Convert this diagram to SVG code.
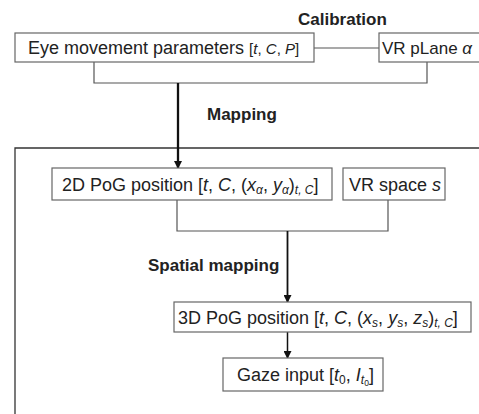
<svg xmlns="http://www.w3.org/2000/svg" width="479" height="414" viewBox="0 0 479 414">
<style>
.box{fill:#fff;stroke:#666;stroke-width:1.2}
.t{font-family:"Liberation Sans",Arial,sans-serif;font-size:18px;fill:#222}
.b{font-family:"Liberation Sans",Arial,sans-serif;font-size:17px;font-weight:bold;fill:#222}
.i{font-style:italic}
.s{font-size:12px}
.ss{font-size:8.5px}
.sm{font-size:15px}
.br{fill:none;stroke:#555;stroke-width:1.2}
.ar{fill:none;stroke:#111}
</style>
<defs>
<marker id="ah" markerWidth="8" markerHeight="8" refX="7" refY="4" orient="auto" markerUnits="userSpaceOnUse">
<path d="M0,0 L8,4 L0,8 Z" fill="#111"/>
</marker>
</defs>
<rect width="479" height="414" fill="#fff"/>
<g id="frame">
<path d="M15,414 V148 H479" fill="none" stroke="#333" stroke-width="1.3"/>
</g>
<g id="connectors">
<line class="br" x1="314" y1="48" x2="379" y2="48"/>
<path class="br" d="M94,62 V83 H427 V62"/>
<line class="ar" x1="178" y1="83" x2="178" y2="168" stroke-width="2.3" marker-end="url(#ah)"/>
<path class="br" d="M177,200 V231 H388 V200"/>
<line class="ar" x1="287.5" y1="231" x2="287.5" y2="302" stroke-width="1.8" marker-end="url(#ah)"/>
<line class="ar" x1="287.5" y1="332" x2="287.5" y2="358" stroke-width="1.5" marker-end="url(#ah)"/>
</g>
<g id="labels">
<text class="b" x="298" y="25">Calibration</text>
<text class="b" x="207" y="120">Mapping</text>
<text class="b" x="148" y="271">Spatial mapping</text>
</g>
<g id="eye">
<rect class="box" x="15" y="33" width="299" height="29"/>
<text class="t" x="28" y="54">Eye movement parameters <tspan class="sm">[<tspan class="i">t</tspan>, <tspan class="i">C</tspan>, <tspan class="i">P</tspan>]</tspan></text>
</g>
<g id="plane">
<rect class="box" x="379" y="33" width="110" height="29"/>
<text class="t" x="382" y="54" style="font-size:17px">VR pLane <tspan class="i">α</tspan></text>
</g>
<g id="pog2d">
<rect class="box" x="52" y="168" width="280" height="32"/>
<text class="t" x="62" y="190.5">2D PoG position [<tspan class="i">t</tspan>, <tspan class="i">C</tspan>, (<tspan class="i">x</tspan><tspan class="s i" dy="3">α</tspan><tspan dy="-3">, </tspan><tspan class="i">y</tspan><tspan class="s i" dy="3">α</tspan><tspan dy="-3">)</tspan><tspan class="s i" dy="3">t, C</tspan><tspan dy="-3">]</tspan></text>
</g>
<g id="space">
<rect class="box" x="343" y="168" width="102" height="32"/>
<text class="t" x="349" y="190.5">VR space <tspan class="i">s</tspan></text>
</g>
<g id="pog3d">
<rect class="box" x="174" y="302" width="297" height="30"/>
<text class="t" x="178" y="323.5">3D PoG position [<tspan class="i">t</tspan>, <tspan class="i">C</tspan>, (<tspan class="i">x</tspan><tspan class="s i" dy="3">s</tspan><tspan dy="-3">, </tspan><tspan class="i">y</tspan><tspan class="s i" dy="3">s</tspan><tspan dy="-3">, </tspan><tspan class="i">z</tspan><tspan class="s i" dy="3">s</tspan><tspan dy="-3">)</tspan><tspan class="s i" dy="3">t, C</tspan><tspan dy="-3">]</tspan></text>
</g>
<g id="gaze">
<rect class="box" x="223" y="358" width="160" height="33"/>
<text class="t" x="237" y="381">Gaze input [<tspan class="i">t</tspan><tspan class="s" dy="3">0</tspan><tspan dy="-3">, </tspan><tspan class="i">I</tspan><tspan class="s i" dy="3">t</tspan><tspan class="ss" dy="2">0</tspan><tspan dy="-5">]</tspan></text>
</g>
</svg>
